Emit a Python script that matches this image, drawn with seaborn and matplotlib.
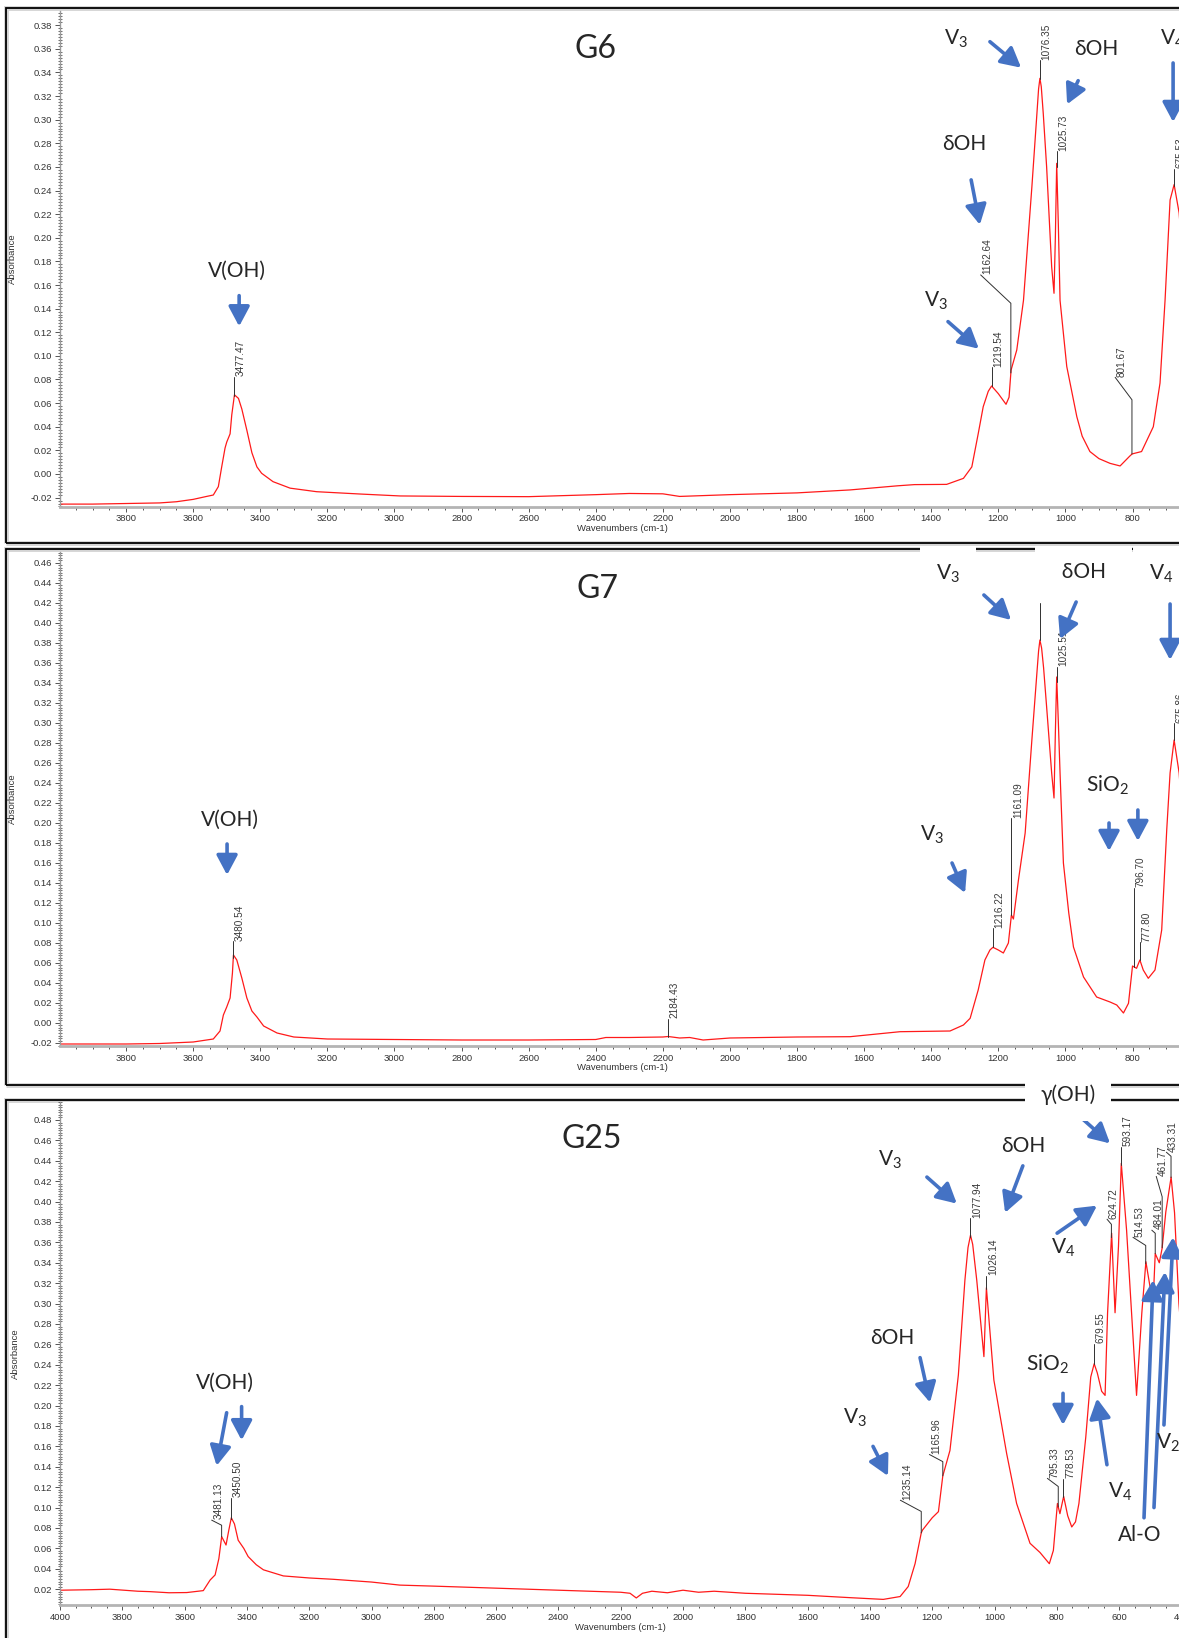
import numpy as np
import pandas as pd
import matplotlib
matplotlib.use("Agg")
import matplotlib.pyplot as plt
from matplotlib.patches import Rectangle
from matplotlib.ticker import MultipleLocator, FormatStrFormatter
import seaborn as sns

# spectra: wavenumber (cm-1) / absorbance
g6_wn = [3997, 3900, 3800, 3700, 3650, 3600, 3560, 3540, 3525, 3515, 3505, 3500, 3490, 3485, 3477,
         3465, 3455, 3440, 3425, 3410, 3396, 3362, 3311, 3232, 3100, 2983, 2800, 2600, 2400, 2300,
         2200, 2150, 2100, 2000, 1800, 1642, 1500, 1450, 1354, 1304, 1279, 1260, 1245, 1230, 1220,
         1200, 1177, 1168, 1162, 1145, 1125, 1100, 1085, 1080, 1076, 1072, 1066, 1056, 1041, 1034,
         1030, 1026, 1021, 1016, 996, 966, 950, 927, 900, 867, 837, 808, 801, 773, 738, 718, 703,
         688, 676, 661, 650]
g6_abs = [-0.0255, -0.0255, -0.025, -0.0245, -0.0235, -0.0215, -0.019, -0.0178, -0.0107, 0.006, 0.022,
          0.027, 0.034, 0.050, 0.067, 0.064, 0.055, 0.037, 0.018, 0.006, 0.0006, -0.0065, -0.012,
          -0.015, -0.017, -0.0186, -0.019, -0.0192, -0.0175, -0.0165, -0.0168, -0.019, -0.0185,
          -0.0175, -0.016, -0.0135, -0.010, -0.009, -0.0088, -0.0037, 0.006, 0.034, 0.057, 0.070,
          0.0745, 0.068, 0.059, 0.065, 0.088, 0.105, 0.147, 0.243, 0.305, 0.326, 0.335, 0.328, 0.305,
          0.260, 0.1755, 0.153, 0.200, 0.263, 0.210, 0.147, 0.091, 0.0485, 0.032, 0.019, 0.013, 0.009,
          0.0068, 0.0152, 0.017, 0.019, 0.040, 0.077, 0.147, 0.232, 0.245, 0.221, 0.18]

g7_wn = [3997, 3800, 3700, 3600, 3540, 3520, 3510, 3500, 3490, 3483, 3480, 3470, 3455, 3440, 3425,
         3410, 3390, 3350, 3300, 3200, 3000, 2800, 2600, 2400, 2370, 2300, 2200, 2184, 2150, 2120,
         2080, 2040, 2000, 1900, 1800, 1642, 1493, 1344, 1304, 1284, 1260, 1240, 1225, 1216, 1200,
         1185, 1170, 1161, 1155, 1140, 1120, 1100, 1085, 1080, 1076, 1071, 1065, 1056, 1041, 1034,
         1030, 1026, 1021, 1016, 1006, 990, 976, 946, 907, 867, 847, 827, 812, 800, 788, 778, 768,
         753, 733, 713, 698, 688, 676, 661, 650]
g7_abs = [-0.021, -0.021, -0.0205, -0.019, -0.016, -0.008, 0.008, 0.016, 0.025, 0.050, 0.068, 0.063,
          0.045, 0.025, 0.012, 0.006, -0.003, -0.010, -0.014, -0.016, -0.0165, -0.017, -0.017,
          -0.0165, -0.0145, -0.0145, -0.014, -0.0135, -0.015, -0.0145, -0.017, -0.016, -0.015,
          -0.0145, -0.014, -0.0137, -0.0087, -0.008, -0.002, 0.0047, 0.033, 0.063, 0.073, 0.0757,
          0.073, 0.070, 0.080, 0.108, 0.104, 0.143, 0.19, 0.283, 0.35, 0.372, 0.383, 0.375, 0.355,
          0.316, 0.25, 0.225, 0.29, 0.346, 0.30, 0.25, 0.16, 0.11, 0.076, 0.046, 0.026, 0.021,
          0.018, 0.010, 0.0197, 0.057, 0.0547, 0.063, 0.053, 0.0447, 0.053, 0.093, 0.193, 0.25,
          0.283, 0.25, 0.2]

g25_wn = [4000, 3900, 3840, 3750, 3711, 3650, 3593, 3540, 3518, 3502, 3490, 3481, 3467, 3458, 3450,
          3440, 3428, 3410, 3396, 3370, 3347, 3283, 3200, 3123, 3000, 2909, 2800, 2600, 2400, 2300,
          2200, 2170, 2150, 2130, 2100, 2050, 2000, 1950, 1900, 1800, 1700, 1600, 1464, 1357, 1303,
          1277, 1255, 1235, 1231, 1200, 1180, 1166, 1143, 1116, 1095, 1085, 1077, 1070, 1057, 1034,
          1026, 1015, 1002, 961, 929, 886, 854, 824, 811, 798, 790, 778, 765, 752, 740, 729, 707,
          691, 680, 670, 656, 645, 637, 624, 613, 602, 593, 576, 560, 544, 527, 514, 501, 490, 484,
          471, 462, 450, 433, 422, 408, 400]
g25_abs = [0.019, 0.0195, 0.020, 0.018, 0.0176, 0.0165, 0.0167, 0.0186, 0.029, 0.034, 0.050, 0.0715,
           0.0633, 0.078, 0.090, 0.084, 0.068, 0.060, 0.052, 0.044, 0.039, 0.033, 0.031, 0.0297,
           0.027, 0.024, 0.023, 0.021, 0.019, 0.018, 0.017, 0.016, 0.0114, 0.016, 0.018, 0.0165,
           0.019, 0.017, 0.018, 0.016, 0.015, 0.014, 0.0117, 0.010, 0.0128, 0.0226, 0.045, 0.0754,
           0.078, 0.090, 0.096, 0.131, 0.156, 0.23, 0.323, 0.355, 0.367, 0.358, 0.323, 0.248,
           0.3155, 0.274, 0.225, 0.153, 0.104, 0.065, 0.056, 0.045, 0.058, 0.104, 0.094, 0.111,
           0.092, 0.081, 0.086, 0.104, 0.169, 0.228, 0.241, 0.232, 0.214, 0.21, 0.291, 0.369, 0.291,
           0.356, 0.4375, 0.372, 0.291, 0.21, 0.291, 0.341, 0.317, 0.307, 0.349, 0.340, 0.354, 0.39,
           0.424, 0.389, 0.30, 0.27]

# peak marks: position, leader rise, leader slant (dwn, dabs)
g6_peaks = [3477.47, 1219.54, 1162.64, 1076.35, 1025.73, 801.67, 675.53]
g6_rise = [0.016, 0.016, 0.059, 0.016, 0.013, 0.046, 0.014]
g6_slant = [(0, 0), (0, 0), (90, 0.024), (0, 0), (0, 0), (50, 0.019), (0, 0)]

g7_peaks = [3480.54, 2184.43, 1216.22, 1161.09, 1076.0, 1025.51, 796.70, 777.80, 675.86]
g7_rise = [0.017, 0.018, 0.019, 0.097, 0.037, 0.015, 0.079, 0.018, 0.017]
g7_slant = [(0, 0)] * 9
g7_show = [True, True, True, True, False, True, True, True, True]

g25_peaks = [3481.13, 3450.50, 1235.14, 1165.96, 1077.94, 1026.14, 795.33, 778.53, 679.55,
             624.72, 593.17, 514.53, 484.01, 461.77, 433.31]
g25_rise = [0.0115, 0.020, 0.021, 0.014, 0.018, 0.013, 0.020, 0.018, 0.020,
            0.013, 0.018, 0.018, 0.020, 0.050, 0.021]
g25_slant = [(32, 0.005), (0, 0), (67, 0.011), (43, 0.007), (0, 0), (0, 0), (35, 0.008), (0, 0),
             (0, 0), (14, 0.005), (0, 0), (41, 0.008), (11, 0.003), (19, 0.020), (15, 0.004)]

# band assignments: text and position, arrows (from -> to)
g6_notes = [("V(OH)", 3469, 0.172), ("V$_3$", 1326, 0.368), ("δOH", 909, 0.360),
            ("V$_4$", 682, 0.368), ("δOH", 1302, 0.279), ("V$_3$", 1386, 0.147)]
g6_arrows = [(3463, 0.151, 3463, 0.125), (1225, 0.366, 1132, 0.344), (962, 0.333, 995, 0.313),
             (679, 0.348, 679, 0.298), (1281, 0.249, 1255, 0.211), (1350, 0.129, 1258, 0.106)]

g7_notes = [("V(OH)", 3490, 0.203), ("V$_3$", 1350, 0.449), ("  δOH  ", 945, 0.451),
            ("V$_4$", 715, 0.449), ("SiO$_2$", 876, 0.238), ("V$_3$", 1398, 0.188)]
g7_boxed = [False, True, True, True, False, False]
g7_arrows = [(3499, 0.179, 3499, 0.148), (1243, 0.428, 1162, 0.403), (968, 0.421, 1016, 0.384),
             (688, 0.419, 688, 0.363), (784, 0.213, 784, 0.182), (870, 0.200, 870, 0.172),
             (1338, 0.160, 1299, 0.130)]

g25_notes = [("V(OH)", 3472, 0.222), ("V$_3$", 1335, 0.441), ("δOH", 909, 0.454),
             ("γ(OH)", 764, 0.5045), ("δOH", 1329, 0.266), ("V$_3$", 1448, 0.188),
             ("SiO$_2$", 831, 0.240), ("V$_4$", 780, 0.355), ("V$_4$", 597, 0.115),
             ("Al-O", 533, 0.073), ("V$_2$", 443, 0.163)]
g25_boxed = [False, False, False, True, False, False, False, False, False, False, False]
g25_arrows = [(3465, 0.193, 3497, 0.141), (3417, 0.199, 3417, 0.166), (1217, 0.424, 1121, 0.398),
              (909, 0.435, 966, 0.389), (732, 0.485, 629, 0.457), (1239, 0.247, 1207, 0.203),
              (1390, 0.160, 1342, 0.131), (780, 0.212, 780, 0.181), (799, 0.369, 671, 0.396),
              (639, 0.142, 671, 0.207), (520, 0.090, 491, 0.323), (488, 0.100, 453, 0.331),
              (456, 0.181, 427, 0.365)]

sns.set_style("ticks")
plt.rcParams["font.family"] = ["Liberation Sans", "DejaVu Sans"]
plt.rcParams["axes.unicode_minus"] = False
plt.rcParams["mathtext.fontset"] = "custom"
plt.rcParams["mathtext.rm"] = "Lato"
plt.rcParams["mathtext.default"] = "rm"

W, H = 1179, 1638
fig = plt.figure(figsize=(W / 100, H / 100), dpi=100)
BLUE = "#4472C4"
NOTE_FONT = ["Lato", "Open Sans", "DejaVu Sans"]


def frame(top, bottom):
    fig.add_artist(Rectangle((6 / W, 1 - bottom / H), 1.1, (bottom - top) / H, transform=fig.transFigure,
                             fill=False, ec="#d4d4d4", lw=3.5, zorder=-2))
    fig.add_artist(Rectangle((6 / W, 1 - bottom / H), 1.1, (bottom - top) / H, transform=fig.transFigure,
                             fill=False, ec="black", lw=1.3, zorder=-1))


def panel(px, wn, ab, xlim, ylim, yticks, name, name_pos, xlabel_x):
    x0, y0, x1, y1 = px
    ax = fig.add_axes([x0 / W, 1 - y1 / H, (x1 - x0) / W, (y1 - y0) / H])
    df = pd.DataFrame({"wn": wn, "abs": ab})
    sns.lineplot(data=df, x="wn", y="abs", ax=ax, color="#ff1a1a", lw=0.9, sort=False, estimator=None)
    ax.set_xlim(*xlim)
    ax.set_ylim(*ylim)
    ax.set_yticks(yticks)
    ax.yaxis.set_major_formatter(FormatStrFormatter("%.2f"))
    ax.xaxis.set_major_locator(MultipleLocator(200))
    ax.xaxis.set_minor_locator(MultipleLocator(50))
    ax.yaxis.set_minor_locator(MultipleLocator(0.0025))
    for s in ["top", "right"]:
        ax.spines[s].set_visible(False)
    ax.spines["left"].set_color("#9a9a9a")
    ax.spines["left"].set_linewidth(1.0)
    ax.spines["bottom"].set_color("#b4b4b4")
    ax.spines["bottom"].set_linewidth(2.0)
    ax.tick_params(axis="both", which="major", labelsize=6.8, labelcolor="#333333", color="#555555",
                   length=3.5, width=0.7, pad=2)
    ax.tick_params(axis="y", which="minor", direction="inout", length=2.5, width=0.6, color="#555555")
    ax.tick_params(axis="x", which="minor", direction="out", length=2, width=0.7, color="#555555")
    ax.set_xlabel("Wavenumbers (cm-1)", fontsize=6.8, color="#333333", labelpad=3)
    ax.set_ylabel("Absorbance", fontsize=6.8, color="#333333", labelpad=10)
    ax.xaxis.set_label_coords(xlabel_x, -0.035)
    ax.text(name_pos[0], name_pos[1], name, fontsize=23, family=NOTE_FONT, ha="center", va="center")
    return ax


def peak_marks(ax, wn, ab, peaks, rise, slant, show=None):
    xs = np.array(wn[::-1], dtype=float)
    ys = np.array(ab[::-1], dtype=float)
    for i, p in enumerate(peaks):
        a = np.interp(p, xs, ys)
        dx, dy = slant[i]
        lx = [p, p, p + dx]
        ly = [a, a + rise[i], a + rise[i] + dy]
        ax.plot(lx, ly, color="#303030", lw=0.7)
        if show is None or show[i]:
            ax.annotate(f"{p:.2f}", xy=(lx[-1], ly[-1]), xytext=(1.2, 0.5), textcoords="offset points",
                        rotation=90, ha="left", va="bottom", fontsize=7.2, color="#3a3a3a")


def notes(ax, items, arrows, boxed=None):
    for i, (t, x, y) in enumerate(items):
        kw = {}
        if boxed is not None and boxed[i]:
            kw["bbox"] = dict(boxstyle="square,pad=0.75", fc="white", ec="none")
        ax.text(x, y, t, fontsize=15, family=NOTE_FONT, ha="center", va="center", zorder=6, **kw)
    for x0, y0, x1, y1 in arrows:
        ax.annotate("", xy=(x1, y1), xytext=(x0, y0), zorder=5,
                    arrowprops=dict(arrowstyle="-|>,head_length=0.6,head_width=0.32", color=BLUE,
                                    lw=2.6, mutation_scale=20, shrinkA=0, shrinkB=0))


frame(8, 543)
frame(549, 1085)
frame(1100, 1700)

ax1 = panel((60, 11, 1266.7, 506.7), g6_wn, g6_abs, (3997, 400), (-0.0277, 0.392),
            np.arange(-0.02, 0.3801, 0.02), "G6", (2402, 0.360), 0.466)
peak_marks(ax1, g6_wn, g6_abs, g6_peaks, g6_rise, g6_slant)
notes(ax1, g6_notes, g6_arrows)

ax2 = panel((60, 552, 1266.7, 1046), g7_wn, g7_abs, (3997, 400), (-0.023, 0.471),
            np.arange(-0.02, 0.4601, 0.02), "G7", (2396, 0.434), 0.466)
peak_marks(ax2, g7_wn, g7_abs, g7_peaks, g7_rise, g7_slant, g7_show)
notes(ax2, g7_notes, g7_arrows, g7_boxed)

ax3 = panel((60, 1102, 1181.4, 1605), g25_wn, g25_abs, (4000, 400), (0.0045, 0.4976),
            np.arange(0.02, 0.4801, 0.02), "G25", (2292, 0.461), 0.5)
peak_marks(ax3, g25_wn, g25_abs, g25_peaks, g25_rise, g25_slant)
notes(ax3, g25_notes, g25_arrows, g25_boxed)

fig.savefig("out.png", dpi=100)
